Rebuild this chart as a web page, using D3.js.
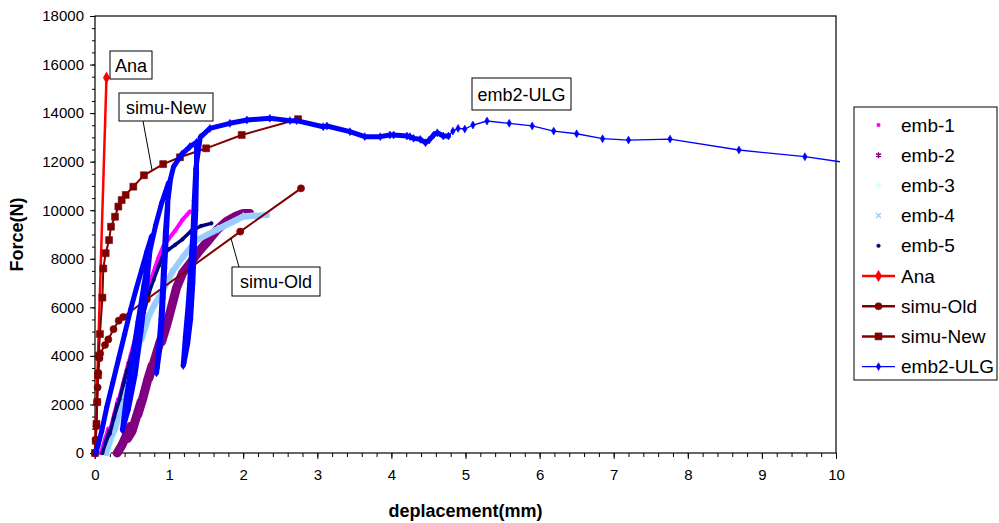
<!DOCTYPE html>
<html>
<head>
<meta charset="utf-8">
<script src="https://cdn.jsdelivr.net/npm/d3@7"></script>
<style>
  body { margin: 0; background: #fff; }
  text { font-family: "Liberation Sans", Arial, sans-serif; }
</style>
</head>
<body>
<svg id="chart" width="999" height="523"></svg>
<script>
// ---- data: [deplacement (mm), force (N)] ----
const xTicks = [0, 1, 2, 3, 4, 5, 6, 7, 8, 9, 10];
const yTicks = [0, 2000, 4000, 6000, 8000, 10000, 12000, 14000, 16000, 18000];

const emb1 = [[0.08,0],[0.13,500],[0.18,1000],[0.14,600],[0.2,900],[0.26,1600],[0.31,2200],[0.27,1700],[0.34,2400],[0.4,3100],[0.45,3700],[0.41,3200],[0.48,4000],[0.54,4700],[0.59,5300],[0.55,4800],[0.62,5600],[0.67,6300],[0.72,6900],[0.77,7260],[0.85,8000],[0.92,8500],[0.99,8800],[1.08,9150],[1.18,9600],[1.28,9940]];

const emb2 = [[0.3,0],[0.36,300],[0.42,700],[0.48,1100],[0.44,600],[0.5,900],[0.56,1500],[0.62,2100],[0.58,1600],[0.65,2300],[0.71,3000],[0.77,3600],[0.73,3100],[0.8,3800],[0.87,4500],[0.94,5100],[0.9,4600],[0.97,5300],[1.04,6100],[1.1,6800],[1.18,7400],[1.28,7800],[1.4,8300],[1.5,8650],[1.65,9200],[1.78,9550],[1.9,9750],[2.0,9870],[2.09,9870]];

const emb3 = [[0.17,0],[0.22,500],[0.27,1000],[0.23,600],[0.29,1000],[0.35,1700],[0.41,2300],[0.37,1800],[0.44,2500],[0.5,3200],[0.55,3800],[0.51,3300],[0.58,4100],[0.64,4800],[0.69,5300],[0.65,4800],[0.74,5600],[0.82,6200],[0.94,6800],[1.07,7550],[1.21,8150],[1.39,8800],[1.66,9250],[2.0,9760],[2.28,9850]];

const emb4 = [[0.15,0],[0.2,500],[0.25,1000],[0.21,600],[0.27,1000],[0.33,1700],[0.39,2300],[0.35,1800],[0.42,2500],[0.48,3200],[0.53,3800],[0.49,3300],[0.56,4100],[0.62,4800],[0.67,5200],[0.63,4700],[0.72,5600],[0.8,6100],[0.92,6700],[1.05,7500],[1.19,8085],[1.37,8770],[1.64,9185],[2.0,9730],[2.32,9800]];

const emb5 = [[0.1,0],[0.14,400],[0.19,900],[0.15,500],[0.2,800],[0.25,1400],[0.3,2000],[0.26,1500],[0.33,2200],[0.38,2800],[0.43,3400],[0.39,2900],[0.46,3700],[0.52,4300],[0.57,4900],[0.53,4400],[0.6,5200],[0.65,5800],[0.7,6300],[0.66,5800],[0.73,6600],[0.79,7125],[0.86,7700],[0.92,8155],[1.0,8400],[1.08,8570],[1.18,8800],[1.3,9150],[1.43,9350],[1.57,9460]];

const ana = [[0,0],[0.155,15460]];

const simuOld = [[0,0],[0.01,550],[0.02,1100],[0.03,2100],[0.035,2700],[0.045,3300],[0.06,3900],[0.07,4100],[0.135,4450],[0.18,4680],[0.25,5100],[0.32,5450],[0.38,5600],[0.70,6330],[1.96,9120],[2.78,10900]];

const simuNew = [[0,0],[0.01,500],[0.02,1200],[0.03,2100],[0.04,3200],[0.05,4000],[0.067,4900],[0.1,6400],[0.112,7600],[0.144,8230],[0.19,8770],[0.216,9320],[0.27,9730],[0.315,10150],[0.36,10420],[0.414,10630],[0.517,10970],[0.66,11440],[0.92,11900],[1.147,12180],[1.50,12550],[1.98,13100],[2.74,13750]];

// emb2-ULG: continuous record of the load cycles, then the sparse end of the test
const ulg = [
  [0.01,0],[0.04,300],[0.09,900],[0.16,1900],[0.24,2900],[0.32,3900],[0.40,4900],[0.48,5900],[0.56,6800],[0.63,7540],[0.70,8300],[0.76,8900],
  [0.70,7000],[0.62,5000],[0.54,3200],[0.45,1800],[0.37,950],
  [0.42,2200],[0.50,3800],[0.58,5400],[0.66,6900],[0.74,8300],[0.82,9400],[0.90,10300],[0.99,11110],
  [0.98,10000],[0.96,8800],[0.94,7600],[0.92,6400],[0.9,5200],[0.87,4200],[0.84,3500],[0.83,3300],
  [0.86,4300],[0.89,5500],[0.91,6700],[0.93,7900],[0.95,9100],[0.98,10300],[1.02,11300],[1.06,11790],[1.17,12300],[1.28,12620],[1.37,12800],
  [1.37,11500],[1.36,10000],[1.34,8500],[1.32,7000],[1.29,5500],[1.25,4500],[1.2,3700],[1.19,3600],
  [1.22,4800],[1.26,6200],[1.29,7600],[1.32,9000],[1.34,10400],[1.36,11700],[1.42,13000],[1.55,13370],[1.82,13580],[2.05,13715],[2.36,13785],[2.63,13690],[2.72,13690],[3.08,13440],[3.13,13470],[3.44,13235],[3.64,13030],[3.85,13030],[3.98,13100],[4.03,13100],[4.21,13055],[4.25,13030],[4.30,12960],[4.39,12920],[4.46,12780],[4.51,12890],
  [4.57,13100],[4.62,13190],[4.70,13055],[4.77,13055],[4.83,13260],[4.9,13370],[4.99,13345],[5.10,13510],[5.29,13675],[5.59,13580],[5.90,13470],[6.19,13260],[6.50,13150],[6.85,12945],[7.20,12890],[7.76,12930],[8.69,12480],[9.58,12205],[10.5,11800]];
const ulgRecordedCount = 82; // points of the continuous record (drawn as a dense trace)

// ---- layout ----
const plot = { left: 95, right: 836, top: 16, bottom: 453 };

const svg = d3.select('#chart');
const x = d3.scaleLinear().domain([0, 10]).range([plot.left, plot.right]);
const y = d3.scaleLinear().domain([0, 18000]).range([plot.bottom, plot.top]);

// series styling
const series = [
  { name: 'emb-1', data: emb1, color: '#FF00FF', marker: d3.symbolSquare, size: 9, line: false, band: 4 },
  { name: 'emb-2', data: emb2, color: '#800080', marker: d3.symbolAsterisk, size: 24, line: false, band: 9, strokeMarker: true },
  { name: 'emb-3', data: emb3, color: '#CCFFFF', marker: d3.symbolPlus, size: 18, line: false, band: 5, strokeMarker: true },
  { name: 'emb-4', data: emb4, color: '#99CCFF', marker: d3.symbolTimes, size: 18, line: false, band: 6, strokeMarker: true },
  { name: 'emb-5', data: emb5, color: '#000080', marker: d3.symbolCircle, size: 10, line: false, band: 3.5 },
  { name: 'Ana', data: ana, color: '#FF0000', marker: d3.symbolDiamond, size: 36, line: true, width: 2.5 },
  { name: 'simu-Old', data: simuOld, color: '#800000', marker: d3.symbolCircle, size: 40, line: true, width: 2 },
  { name: 'simu-New', data: simuNew, color: '#800000', marker: d3.symbolSquare, size: 48, line: true, width: 2 },
  { name: 'emb2-ULG', data: ulg, color: '#0000FF', marker: d3.symbolDiamond, size: 18, line: true, width: 1.3 }
];

// clip region for the series
svg.append('clipPath').attr('id', 'plotClip')
  .append('rect')
  .attr('x', plot.left - 8).attr('y', plot.top - 8)
  .attr('width', plot.right - plot.left + 12)
  .attr('height', plot.bottom - plot.top + 14);

// ---- axes ----
const gx = svg.append('g').attr('transform', `translate(0,${plot.bottom})`);
gx.call(d3.axisBottom(x).tickValues(d3.range(0, 10.001, 0.2)).tickSize(4).tickFormat(''));
gx.select('.domain').remove();
const gx2 = svg.append('g').attr('transform', `translate(0,${plot.bottom})`);
gx2.call(d3.axisBottom(x).tickValues(xTicks).tickSize(6).tickPadding(10).tickFormat(d3.format('d')));
gx2.select('.domain').remove();
gx2.selectAll('text').attr('font-size', 15).attr('fill', '#000');

const gy = svg.append('g').attr('transform', `translate(${plot.left},0)`);
gy.call(d3.axisLeft(y).tickValues(d3.range(0, 18001, 500)).tickSize(3).tickFormat(''));
gy.select('.domain').remove();
const gy2 = svg.append('g').attr('transform', `translate(${plot.left},0)`);
gy2.call(d3.axisLeft(y).tickValues(yTicks).tickSize(5).tickPadding(6).tickFormat(d3.format('d')));
gy2.select('.domain').remove();
gy2.selectAll('text').attr('font-size', 15).attr('fill', '#000');
svg.selectAll('.tick line').attr('stroke', '#000');

// plot frame
svg.append('rect')
  .attr('x', plot.left).attr('y', plot.top)
  .attr('width', plot.right - plot.left).attr('height', plot.bottom - plot.top)
  .attr('fill', 'none').attr('stroke', '#000').attr('stroke-width', 1.2);

// axis titles
svg.append('text')
  .attr('x', (plot.left + plot.right) / 2).attr('y', 517)
  .attr('text-anchor', 'middle').attr('font-size', 18).attr('font-weight', 'bold')
  .text('deplacement(mm)');
svg.append('text')
  .attr('transform', `translate(23,${(plot.top + plot.bottom) / 2}) rotate(-90)`)
  .attr('text-anchor', 'middle').attr('font-size', 18).attr('font-weight', 'bold')
  .text('Force(N)');

// ---- series ----
const layer = svg.append('g').attr('clip-path', 'url(#plotClip)');
const lineGen = d3.line().x(d => x(d[0])).y(d => y(d[1]));

function drawMarkers(g, s, pts) {
  const sym = d3.symbol().type(s.marker).size(s.size);
  g.selectAll(null).data(pts).join('path')
    .attr('d', sym)
    .attr('transform', d => `translate(${x(d[0])},${y(d[1])})`)
    .attr('fill', s.strokeMarker ? 'none' : s.color)
    .attr('stroke', s.color)
    .attr('stroke-width', s.strokeMarker ? 1.4 : 0.6);
}

series.forEach(s => {
  const g = layer.append('g');
  if (s.name === 'emb2-ULG') {
    // dense test record drawn as a thick trace of overlapping markers
    g.append('path').datum(s.data.slice(0, ulgRecordedCount))
      .attr('d', lineGen).attr('fill', 'none')
      .attr('stroke', s.color).attr('stroke-width', 5)
      .attr('stroke-linejoin', 'round').attr('stroke-linecap', 'round');
    g.append('path').datum(s.data.slice(ulgRecordedCount - 1))
      .attr('d', lineGen).attr('fill', 'none')
      .attr('stroke', s.color).attr('stroke-width', s.width);
  } else if (s.line) {
    g.append('path').datum(s.data)
      .attr('d', lineGen).attr('fill', 'none')
      .attr('stroke', s.color).attr('stroke-width', s.width);
  } else {
    g.append('path').datum(s.data)
      .attr('d', lineGen).attr('fill', 'none')
      .attr('stroke', s.color).attr('stroke-width', s.band)
      .attr('stroke-linejoin', 'round').attr('stroke-linecap', 'round');
  }
  drawMarkers(g, s, s.data);
});

// ---- annotations ----
const notes = [
  { text: 'Ana', box: [110, 51, 42, 28] },
  { text: 'simu-New', box: [119, 93, 94, 28], leader: [143, 121], target: [0.77, 11650] },
  { text: 'emb2-ULG', box: [472, 78, 99, 32] },
  { text: 'simu-Old', box: [232, 267, 88, 29], leader: [239, 267], target: [1.835, 8843] }
];
notes.forEach(n => {
  const [bx, by, bw, bh] = n.box;
  if (n.leader) {
    svg.append('line')
      .attr('x1', n.leader[0]).attr('y1', n.leader[1])
      .attr('x2', x(n.target[0])).attr('y2', y(n.target[1]))
      .attr('stroke', '#000').attr('stroke-width', 1);
  }
  svg.append('rect').attr('x', bx).attr('y', by).attr('width', bw).attr('height', bh)
    .attr('fill', '#fff').attr('stroke', '#000').attr('stroke-width', 1);
  svg.append('text').attr('x', bx + bw / 2).attr('y', by + bh / 2 + 6.5)
    .attr('text-anchor', 'middle').attr('font-size', 18).text(n.text);
});

// ---- legend ----
const leg = svg.append('g');
leg.append('rect').attr('x', 854).attr('y', 107).attr('width', 143).attr('height', 273)
  .attr('fill', '#fff').attr('stroke', '#000').attr('stroke-width', 1);
series.forEach((s, i) => {
  const cy = 125 + i * 30.2;
  const g = leg.append('g');
  if (s.line) {
    g.append('line').attr('x1', 862).attr('x2', 895).attr('y1', cy).attr('y2', cy)
      .attr('stroke', s.color).attr('stroke-width', s.name === 'emb2-ULG' ? 1.3 : 2.5);
  }
  const sym = d3.symbol().type(s.marker).size(s.size);
  g.append('path').attr('d', sym).attr('transform', `translate(878.5,${cy})`)
    .attr('fill', s.strokeMarker ? 'none' : s.color).attr('stroke', s.color)
    .attr('stroke-width', s.strokeMarker ? 1.4 : 0.6);
  g.append('text').attr('x', 901).attr('y', cy + 6.5).attr('font-size', 19).text(s.name);
});
</script>
</body>
</html>
